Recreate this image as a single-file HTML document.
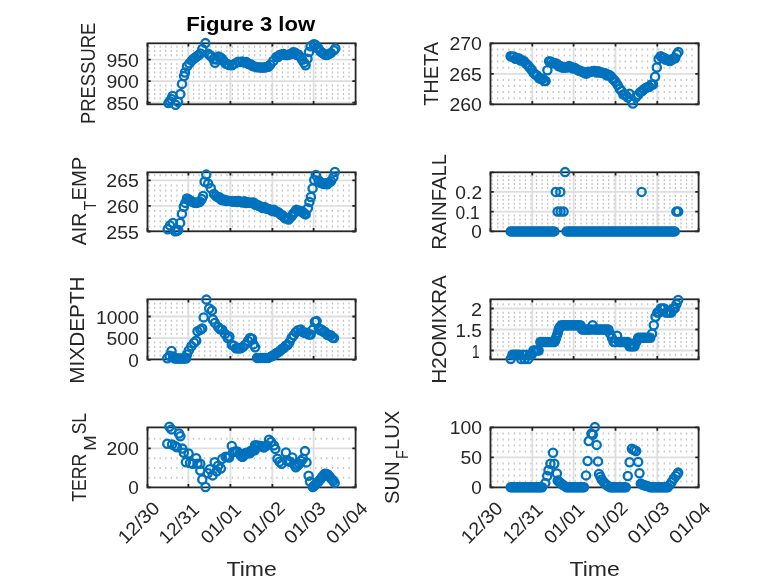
<!DOCTYPE html>
<html lang="en"><head><meta charset="utf-8"><title>Figure 3 low</title>
<style>html,body{margin:0;padding:0;background:#fff;overflow:hidden}svg{display:block;will-change:transform}</style>
</head><body>
<svg width="778" height="583" viewBox="0 0 778 583" font-family='"Liberation Sans", sans-serif' fill="#262626">
<rect width="778" height="583" fill="#fff"/>
<g id="PRESSURE">
<path d="M148.46 98.3H353.1M148.46 94H353.1M148.46 89.7H353.1M148.46 85.4H353.1M148.46 76.8H353.1M148.46 72.5H353.1M148.46 68.2H353.1M148.46 63.9H353.1M148.46 55.3H353.1M148.46 51H353.1M148.46 46.7H353.1" stroke="#c2c2c2" stroke-width="2" stroke-dasharray="1.25 4.305" fill="none"/>
<path d="M188.4 43.3V104.3M230.4 43.3V104.3M272.4 43.3V104.3M313.6 43.3V104.3M147.5 102.6H355.6M147.5 81.1H355.6M147.5 59.6H355.6" stroke="#dedede" stroke-width="1.8" fill="none"/>
<path d="M147.5 104.3v-3.3M147.5 43.3v3.3M188.4 104.3v-3.3M188.4 43.3v3.3M230.4 104.3v-3.3M230.4 43.3v3.3M272.4 104.3v-3.3M272.4 43.3v3.3M313.6 104.3v-3.3M313.6 43.3v3.3M355.6 104.3v-3.3M355.6 43.3v3.3M147.5 102.6h3.3M355.6 102.6h-3.3M147.5 81.1h3.3M355.6 81.1h-3.3M147.5 59.6h3.3M355.6 59.6h-3.3" stroke="#262626" stroke-width="1.8" fill="none"/>
<rect x="147.5" y="43.3" width="208.1" height="61" fill="none" stroke="#262626" stroke-width="1.8"/>
<g fill="none" stroke="#0072bd" stroke-width="2.3">
<circle cx="168.4" cy="103.1" r="4.1"/><circle cx="170" cy="101.2" r="4.1"/><circle cx="171.4" cy="98.9" r="4.1"/><circle cx="172.6" cy="95.9" r="4.1"/><circle cx="175.6" cy="104.7" r="4.1"/><circle cx="178" cy="101.9" r="4.1"/><circle cx="180.4" cy="94.1" r="4.1"/><circle cx="182" cy="83.9" r="4.1"/><circle cx="184" cy="76.1" r="4.1"/><circle cx="185" cy="72.5" r="4.1"/><circle cx="187" cy="66.4" r="4.1"/><circle cx="189.4" cy="63.4" r="4.1"/><circle cx="191.7" cy="60.6" r="4.1"/><circle cx="193.6" cy="58.8" r="4.1"/><circle cx="195.3" cy="57.6" r="4.1"/><circle cx="197" cy="56.2" r="4.1"/><circle cx="198.8" cy="55" r="4.1"/><circle cx="200.4" cy="53.4" r="4.1"/><circle cx="202.3" cy="49" r="4.1"/><circle cx="205.4" cy="43.1" r="4.1"/><circle cx="208.2" cy="53.8" r="4.1"/><circle cx="209.9" cy="55.2" r="4.1"/><circle cx="211.6" cy="56.5" r="4.1"/><circle cx="213.3" cy="59.14" r="4.1"/><circle cx="215" cy="62.7" r="4.1"/><circle cx="216.8" cy="59.5" r="4.1"/><circle cx="218.5" cy="56.5" r="4.1"/><circle cx="220.2" cy="57.5" r="4.1"/><circle cx="221.9" cy="58.6" r="4.1"/><circle cx="223.6" cy="61" r="4.1"/><circle cx="225.6" cy="63.6" r="4.1"/><circle cx="227.3" cy="64.07" r="4.1"/><circle cx="229" cy="65" r="4.1"/><circle cx="232" cy="65.3" r="4.1"/><circle cx="235.2" cy="63.4" r="4.1"/><circle cx="238.2" cy="61.7" r="4.1"/><circle cx="240.25" cy="62.12" r="4.1"/><circle cx="242.3" cy="61.5" r="4.1"/><circle cx="244.35" cy="62.59" r="4.1"/><circle cx="246.4" cy="62" r="4.1"/><circle cx="248.45" cy="64.02" r="4.1"/><circle cx="250.5" cy="64.3" r="4.1"/><circle cx="252.55" cy="65.99" r="4.1"/><circle cx="254.6" cy="66.5" r="4.1"/><circle cx="256.65" cy="67.13" r="4.1"/><circle cx="258.7" cy="67.3" r="4.1"/><circle cx="260.8" cy="67.54" r="4.1"/><circle cx="262.9" cy="67.6" r="4.1"/><circle cx="264.7" cy="67.55" r="4.1"/><circle cx="266.5" cy="67" r="4.1"/><circle cx="268.3" cy="66.73" r="4.1"/><circle cx="270.1" cy="64.8" r="4.1"/><circle cx="273.2" cy="61" r="4.1"/><circle cx="276.3" cy="57.1" r="4.1"/><circle cx="278.03" cy="57.02" r="4.1"/><circle cx="279.77" cy="55.07" r="4.1"/><circle cx="281.5" cy="54.5" r="4.1"/><circle cx="283.53" cy="54.08" r="4.1"/><circle cx="285.57" cy="55.06" r="4.1"/><circle cx="287.6" cy="55.1" r="4.1"/><circle cx="289.4" cy="54.35" r="4.1"/><circle cx="291.2" cy="54.1" r="4.1"/><circle cx="293" cy="52.37" r="4.1"/><circle cx="294.8" cy="52.5" r="4.1"/><circle cx="296.53" cy="54.75" r="4.1"/><circle cx="298.27" cy="54.52" r="4.1"/><circle cx="300" cy="56.6" r="4.1"/><circle cx="302.2" cy="59.7" r="4.1"/><circle cx="304.1" cy="62.8" r="4.1"/><circle cx="305.6" cy="65.3" r="4.1"/><circle cx="307.5" cy="58.7" r="4.1"/><circle cx="309" cy="52" r="4.1"/><circle cx="310.6" cy="46.3" r="4.1"/><circle cx="313.8" cy="44.3" r="4.1"/><circle cx="315.37" cy="44.87" r="4.1"/><circle cx="316.93" cy="47.87" r="4.1"/><circle cx="318.5" cy="48.4" r="4.1"/><circle cx="320.55" cy="51.44" r="4.1"/><circle cx="322.6" cy="53" r="4.1"/><circle cx="324.65" cy="54.43" r="4.1"/><circle cx="326.7" cy="55.1" r="4.1"/><circle cx="328.75" cy="54.16" r="4.1"/><circle cx="330.8" cy="53" r="4.1"/><circle cx="333.9" cy="50.4" r="4.1"/><circle cx="335.4" cy="48.4" r="4.1"/>
</g>
<text transform="translate(107.35 109.6) scale(1.0431 1.0000) translate(-0.79 0)" font-size="18.6">850</text>
<text transform="translate(107.35 88.1) scale(1.0464 1.0000) translate(-0.88 0)" font-size="18.6">900</text>
<text transform="translate(107.35 66.6) scale(1.0464 1.0000) translate(-0.88 0)" font-size="18.6">950</text>
</g>
<g id="AIR">
<path d="M148.46 226.39H353.1M148.46 221.28H353.1M148.46 216.17H353.1M148.46 211.06H353.1M148.46 200.84H353.1M148.46 195.73H353.1M148.46 190.62H353.1M148.46 185.51H353.1M148.46 175.29H353.1" stroke="#c2c2c2" stroke-width="2" stroke-dasharray="1.25 4.305" fill="none"/>
<path d="M188.4 172.3V231.3M230.4 172.3V231.3M272.4 172.3V231.3M313.6 172.3V231.3M147.5 205.95H355.6M147.5 180.4H355.6" stroke="#dedede" stroke-width="1.8" fill="none"/>
<path d="M147.5 231.3v-3.3M147.5 172.3v3.3M188.4 231.3v-3.3M188.4 172.3v3.3M230.4 231.3v-3.3M230.4 172.3v3.3M272.4 231.3v-3.3M272.4 172.3v3.3M313.6 231.3v-3.3M313.6 172.3v3.3M355.6 231.3v-3.3M355.6 172.3v3.3M147.5 231.5h3.3M355.6 231.5h-3.3M147.5 205.95h3.3M355.6 205.95h-3.3M147.5 180.4h3.3M355.6 180.4h-3.3" stroke="#262626" stroke-width="1.8" fill="none"/>
<rect x="147.5" y="172.3" width="208.1" height="59" fill="none" stroke="#262626" stroke-width="1.8"/>
<g fill="none" stroke="#0072bd" stroke-width="2.3">
<circle cx="167.7" cy="229.3" r="4.1"/><circle cx="170" cy="225.4" r="4.1"/><circle cx="172.9" cy="222.9" r="4.1"/><circle cx="175" cy="231.2" r="4.1"/><circle cx="176.6" cy="231" r="4.1"/><circle cx="178.2" cy="230" r="4.1"/><circle cx="180.2" cy="222.9" r="4.1"/><circle cx="181.9" cy="213.9" r="4.1"/><circle cx="183.8" cy="206.8" r="4.1"/><circle cx="185.3" cy="202.9" r="4.1"/><circle cx="187" cy="198.4" r="4.1"/><circle cx="188.6" cy="199.4" r="4.1"/><circle cx="190.2" cy="200.4" r="4.1"/><circle cx="191.8" cy="201.4" r="4.1"/><circle cx="193.4" cy="202.3" r="4.1"/><circle cx="195" cy="202.7" r="4.1"/><circle cx="196.7" cy="202.9" r="4.1"/><circle cx="198.3" cy="202.4" r="4.1"/><circle cx="199.9" cy="201.7" r="4.1"/><circle cx="201.8" cy="199.1" r="4.1"/><circle cx="203.1" cy="195.9" r="4.1"/><circle cx="204.6" cy="181.7" r="4.1"/><circle cx="206.3" cy="174.6" r="4.1"/><circle cx="208.2" cy="183.6" r="4.1"/><circle cx="210.8" cy="188.2" r="4.1"/><circle cx="214" cy="193.9" r="4.1"/><circle cx="215.95" cy="196.09" r="4.1"/><circle cx="217.9" cy="197.2" r="4.1"/><circle cx="219.6" cy="197.35" r="4.1"/><circle cx="221.3" cy="199.77" r="4.1"/><circle cx="223" cy="200.3" r="4.1"/><circle cx="224.62" cy="199.65" r="4.1"/><circle cx="226.25" cy="201.01" r="4.1"/><circle cx="227.88" cy="200.73" r="4.1"/><circle cx="229.5" cy="201" r="4.1"/><circle cx="231.43" cy="201.13" r="4.1"/><circle cx="233.35" cy="201.75" r="4.1"/><circle cx="235.27" cy="201.01" r="4.1"/><circle cx="237.2" cy="202" r="4.1"/><circle cx="239" cy="201.06" r="4.1"/><circle cx="240.8" cy="201.9" r="4.1"/><circle cx="242.6" cy="202.6" r="4.1"/><circle cx="244.4" cy="201.27" r="4.1"/><circle cx="246.2" cy="202.94" r="4.1"/><circle cx="248" cy="202.27" r="4.1"/><circle cx="249.8" cy="202.74" r="4.1"/><circle cx="251.6" cy="202.7" r="4.1"/><circle cx="253.44" cy="202.56" r="4.1"/><circle cx="255.28" cy="204.79" r="4.1"/><circle cx="257.12" cy="204.85" r="4.1"/><circle cx="258.96" cy="205.97" r="4.1"/><circle cx="260.8" cy="206.5" r="4.1"/><circle cx="262.66" cy="207.97" r="4.1"/><circle cx="264.52" cy="206.96" r="4.1"/><circle cx="266.38" cy="208.66" r="4.1"/><circle cx="268.24" cy="208.88" r="4.1"/><circle cx="270.1" cy="209.6" r="4.1"/><circle cx="272.03" cy="210.89" r="4.1"/><circle cx="273.95" cy="209.87" r="4.1"/><circle cx="275.88" cy="211.81" r="4.1"/><circle cx="277.8" cy="211.9" r="4.1"/><circle cx="279.35" cy="213.13" r="4.1"/><circle cx="280.9" cy="214.84" r="4.1"/><circle cx="282.45" cy="215.22" r="4.1"/><circle cx="284" cy="217.3" r="4.1"/><circle cx="285.53" cy="218.48" r="4.1"/><circle cx="287.07" cy="217.98" r="4.1"/><circle cx="288.6" cy="219.6" r="4.1"/><circle cx="291.7" cy="216.2" r="4.1"/><circle cx="293.23" cy="213.69" r="4.1"/><circle cx="294.77" cy="211.96" r="4.1"/><circle cx="296.3" cy="209.7" r="4.1"/><circle cx="297.87" cy="210.7" r="4.1"/><circle cx="299.43" cy="210.67" r="4.1"/><circle cx="301" cy="211.3" r="4.1"/><circle cx="302.53" cy="211.8" r="4.1"/><circle cx="304.07" cy="213.48" r="4.1"/><circle cx="305.6" cy="214.4" r="4.1"/><circle cx="307.9" cy="208.2" r="4.1"/><circle cx="309.4" cy="202" r="4.1"/><circle cx="310.9" cy="197" r="4.1"/><circle cx="312.6" cy="188.4" r="4.1"/><circle cx="314.2" cy="180" r="4.1"/><circle cx="315.9" cy="175" r="4.1"/><circle cx="318.7" cy="180.4" r="4.1"/><circle cx="320.6" cy="182.77" r="4.1"/><circle cx="322.5" cy="183.5" r="4.1"/><circle cx="324.07" cy="184.1" r="4.1"/><circle cx="325.63" cy="183.23" r="4.1"/><circle cx="327.2" cy="184.3" r="4.1"/><circle cx="329.1" cy="182.48" r="4.1"/><circle cx="331" cy="181.2" r="4.1"/><circle cx="333.4" cy="177.3" r="4.1"/><circle cx="334.9" cy="171.9" r="4.1"/>
</g>
<text transform="translate(107.35 238.5) scale(1.0497 1.0000) translate(-0.93 0)" font-size="18.6">255</text>
<text transform="translate(107.35 212.95) scale(1.0480 1.0000) translate(-0.93 0)" font-size="18.6">260</text>
<text transform="translate(107.35 187.4) scale(1.0497 1.0000) translate(-0.93 0)" font-size="18.6">265</text>
</g>
<g id="MIX">
<path d="M148.46 355.56H353.1M148.46 351.22H353.1M148.46 346.88H353.1M148.46 342.54H353.1M148.46 333.86H353.1M148.46 329.52H353.1M148.46 325.18H353.1M148.46 320.84H353.1M148.46 312.16H353.1M148.46 307.82H353.1M148.46 303.48H353.1" stroke="#c2c2c2" stroke-width="2" stroke-dasharray="1.25 4.305" fill="none"/>
<path d="M188.4 299.3V359.4M230.4 299.3V359.4M272.4 299.3V359.4M313.6 299.3V359.4M147.5 338.2H355.6M147.5 316.5H355.6" stroke="#dedede" stroke-width="1.8" fill="none"/>
<path d="M147.5 359.4v-3.3M147.5 299.3v3.3M188.4 359.4v-3.3M188.4 299.3v3.3M230.4 359.4v-3.3M230.4 299.3v3.3M272.4 359.4v-3.3M272.4 299.3v3.3M313.6 359.4v-3.3M313.6 299.3v3.3M355.6 359.4v-3.3M355.6 299.3v3.3M147.5 359.9h3.3M355.6 359.9h-3.3M147.5 338.2h3.3M355.6 338.2h-3.3M147.5 316.5h3.3M355.6 316.5h-3.3" stroke="#262626" stroke-width="1.8" fill="none"/>
<rect x="147.5" y="299.3" width="208.1" height="60.1" fill="none" stroke="#262626" stroke-width="1.8"/>
<g fill="none" stroke="#0072bd" stroke-width="2.3">
<circle cx="167.3" cy="358.3" r="4.1"/><circle cx="169.6" cy="355.8" r="4.1"/><circle cx="171.5" cy="351" r="4.1"/><circle cx="173" cy="356.5" r="4.1"/><circle cx="174.8" cy="358.6" r="4.1"/><circle cx="176.67" cy="358.6" r="4.1"/><circle cx="178.53" cy="358.6" r="4.1"/><circle cx="180.4" cy="358.6" r="4.1"/><circle cx="182.27" cy="358.6" r="4.1"/><circle cx="184.13" cy="358.6" r="4.1"/><circle cx="186" cy="358.6" r="4.1"/><circle cx="187" cy="354.5" r="4.1"/><circle cx="188.8" cy="350.4" r="4.1"/><circle cx="191.4" cy="346.2" r="4.1"/><circle cx="194.1" cy="342.8" r="4.1"/><circle cx="196.2" cy="340.8" r="4.1"/><circle cx="197.5" cy="331.2" r="4.1"/><circle cx="200.3" cy="329.8" r="4.1"/><circle cx="202.2" cy="328.4" r="4.1"/><circle cx="203.7" cy="317.4" r="4.1"/><circle cx="206.4" cy="299.6" r="4.1"/><circle cx="209.2" cy="308.5" r="4.1"/><circle cx="211.9" cy="310.6" r="4.1"/><circle cx="212.8" cy="319.5" r="4.1"/><circle cx="214.9" cy="322.9" r="4.1"/><circle cx="218.1" cy="327" r="4.1"/><circle cx="220.15" cy="329.25" r="4.1"/><circle cx="222.2" cy="329.8" r="4.1"/><circle cx="225" cy="333.9" r="4.1"/><circle cx="227.7" cy="338" r="4.1"/><circle cx="229.4" cy="336.6" r="4.1"/><circle cx="231.8" cy="344.9" r="4.1"/><circle cx="233.85" cy="345.75" r="4.1"/><circle cx="235.9" cy="348.3" r="4.1"/><circle cx="237.5" cy="348.3" r="4.1"/><circle cx="239.1" cy="348.3" r="4.1"/><circle cx="240.7" cy="348.3" r="4.1"/><circle cx="242.8" cy="347.12" r="4.1"/><circle cx="244.9" cy="344.9" r="4.1"/><circle cx="248" cy="341" r="4.1"/><circle cx="250" cy="338" r="4.1"/><circle cx="252" cy="338.8" r="4.1"/><circle cx="253.4" cy="344.4" r="4.1"/><circle cx="255.1" cy="347.3" r="4.1"/><circle cx="257" cy="357.9" r="4.1"/><circle cx="258.88" cy="357.9" r="4.1"/><circle cx="260.77" cy="357.9" r="4.1"/><circle cx="262.65" cy="357.9" r="4.1"/><circle cx="264.53" cy="357.9" r="4.1"/><circle cx="266.42" cy="357.9" r="4.1"/><circle cx="268.3" cy="357.9" r="4.1"/><circle cx="270.4" cy="356.9" r="4.1"/><circle cx="272.5" cy="355.7" r="4.1"/><circle cx="274.4" cy="354.82" r="4.1"/><circle cx="276.3" cy="353.26" r="4.1"/><circle cx="278.2" cy="352.2" r="4.1"/><circle cx="280.07" cy="350.89" r="4.1"/><circle cx="281.93" cy="348.97" r="4.1"/><circle cx="283.8" cy="348" r="4.1"/><circle cx="285.7" cy="345.79" r="4.1"/><circle cx="287.6" cy="344.99" r="4.1"/><circle cx="289.5" cy="342.3" r="4.1"/><circle cx="291.6" cy="338.01" r="4.1"/><circle cx="293.7" cy="335.2" r="4.1"/><circle cx="295.85" cy="332.32" r="4.1"/><circle cx="298" cy="330.3" r="4.1"/><circle cx="300.8" cy="329.6" r="4.1"/><circle cx="302.9" cy="331.99" r="4.1"/><circle cx="305" cy="333.1" r="4.1"/><circle cx="306.9" cy="332.7" r="4.1"/><circle cx="308.8" cy="334.48" r="4.1"/><circle cx="310.7" cy="334.5" r="4.1"/><circle cx="312.8" cy="329.6" r="4.1"/><circle cx="314.9" cy="321.8" r="4.1"/><circle cx="316.6" cy="321.1" r="4.1"/><circle cx="318.8" cy="328.2" r="4.1"/><circle cx="320.33" cy="330.21" r="4.1"/><circle cx="321.87" cy="329.75" r="4.1"/><circle cx="323.4" cy="331.7" r="4.1"/><circle cx="325.3" cy="332.1" r="4.1"/><circle cx="327.2" cy="334.89" r="4.1"/><circle cx="329.1" cy="335.2" r="4.1"/><circle cx="330.73" cy="335.29" r="4.1"/><circle cx="332.37" cy="337.62" r="4.1"/><circle cx="334" cy="338.1" r="4.1"/>
</g>
<text transform="translate(129.09 366.9) scale(1.0204 1.0000) translate(-0.74 0)" font-size="18.6">0</text>
<text transform="translate(107.35 345.2) scale(1.0414 1.0000) translate(-0.74 0)" font-size="18.6">500</text>
<text transform="translate(97.34 323.5) scale(1.0399 1.0000) translate(-1.4 0)" font-size="18.6">1000</text>
</g>
<g id="TERR">
<path d="M148.46 477.65H353.1M148.46 467.9H353.1M148.46 458.15H353.1M148.46 438.65H353.1" stroke="#c2c2c2" stroke-width="2" stroke-dasharray="1.25 4.305" fill="none"/>
<path d="M188.4 427.4V487.4M230.4 427.4V487.4M272.4 427.4V487.4M313.6 427.4V487.4M147.5 448.4H355.6" stroke="#dedede" stroke-width="1.8" fill="none"/>
<path d="M147.5 487.4v-3.3M147.5 427.4v3.3M188.4 487.4v-3.3M188.4 427.4v3.3M230.4 487.4v-3.3M230.4 427.4v3.3M272.4 487.4v-3.3M272.4 427.4v3.3M313.6 487.4v-3.3M313.6 427.4v3.3M355.6 487.4v-3.3M355.6 427.4v3.3M147.5 487.4h3.3M355.6 487.4h-3.3M147.5 448.4h3.3M355.6 448.4h-3.3" stroke="#262626" stroke-width="1.8" fill="none"/>
<rect x="147.5" y="427.4" width="208.1" height="60" fill="none" stroke="#262626" stroke-width="1.8"/>
<g fill="none" stroke="#0072bd" stroke-width="2.3">
<circle cx="169.4" cy="426.7" r="4.1"/><circle cx="171.5" cy="429.4" r="4.1"/><circle cx="179" cy="433.5" r="4.1"/><circle cx="180.4" cy="436.3" r="4.1"/><circle cx="167.3" cy="443.8" r="4.1"/><circle cx="172.1" cy="444.5" r="4.1"/><circle cx="174.9" cy="445.9" r="4.1"/><circle cx="176.9" cy="447.2" r="4.1"/><circle cx="182.4" cy="448.6" r="4.1"/><circle cx="183.8" cy="452.7" r="4.1"/><circle cx="188.6" cy="453.4" r="4.1"/><circle cx="185.9" cy="462.3" r="4.1"/><circle cx="190" cy="463" r="4.1"/><circle cx="192.7" cy="463.7" r="4.1"/><circle cx="196.2" cy="458.2" r="4.1"/><circle cx="197.5" cy="463.7" r="4.1"/><circle cx="200.3" cy="463.7" r="4.1"/><circle cx="200.3" cy="470.6" r="4.1"/><circle cx="202.3" cy="479.5" r="4.1"/><circle cx="205.5" cy="487" r="4.1"/><circle cx="207.8" cy="473.3" r="4.1"/><circle cx="209.9" cy="469.2" r="4.1"/><circle cx="212.6" cy="475.4" r="4.1"/><circle cx="214.7" cy="462.3" r="4.1"/><circle cx="216.7" cy="471.2" r="4.1"/><circle cx="218.1" cy="465.8" r="4.1"/><circle cx="220.8" cy="468.5" r="4.1"/><circle cx="222.2" cy="458.9" r="4.1"/><circle cx="225.6" cy="456.8" r="4.1"/><circle cx="229.1" cy="457.5" r="4.1"/><circle cx="231.8" cy="445.9" r="4.1"/><circle cx="233.2" cy="452" r="4.1"/><circle cx="237.3" cy="451.4" r="4.1"/><circle cx="242.8" cy="456.8" r="4.1"/><circle cx="246.2" cy="452.7" r="4.1"/><circle cx="251" cy="450.7" r="4.1"/><circle cx="255" cy="445.2" r="4.1"/><circle cx="242.1" cy="456.7" r="4.1"/><circle cx="245.7" cy="453.2" r="4.1"/><circle cx="249.9" cy="453.2" r="4.1"/><circle cx="254.8" cy="450.3" r="4.1"/><circle cx="257" cy="445.4" r="4.1"/><circle cx="261.2" cy="446.1" r="4.1"/><circle cx="264" cy="447.5" r="4.1"/><circle cx="266.9" cy="445.4" r="4.1"/><circle cx="269" cy="439.7" r="4.1"/><circle cx="271.1" cy="441.9" r="4.1"/><circle cx="273.9" cy="445.4" r="4.1"/><circle cx="275.3" cy="448.9" r="4.1"/><circle cx="277.5" cy="458.8" r="4.1"/><circle cx="279.6" cy="461.7" r="4.1"/><circle cx="281.7" cy="463.8" r="4.1"/><circle cx="285.9" cy="452.5" r="4.1"/><circle cx="286.7" cy="460.2" r="4.1"/><circle cx="290.2" cy="461.7" r="4.1"/><circle cx="292.3" cy="457.4" r="4.1"/><circle cx="294.4" cy="464.5" r="4.1"/><circle cx="295.8" cy="467.3" r="4.1"/><circle cx="299.4" cy="463.8" r="4.1"/><circle cx="302.9" cy="458.8" r="4.1"/><circle cx="305" cy="451.1" r="4.1"/><circle cx="306.5" cy="462.4" r="4.1"/><circle cx="308.6" cy="475.8" r="4.1"/><circle cx="310" cy="481.5" r="4.1"/><circle cx="312.8" cy="487.1" r="4.1"/><circle cx="315.6" cy="484.3" r="4.1"/><circle cx="318.5" cy="481.5" r="4.1"/><circle cx="322" cy="477.2" r="4.1"/><circle cx="324.8" cy="473.7" r="4.1"/><circle cx="327.7" cy="474.4" r="4.1"/><circle cx="330.5" cy="477.9" r="4.1"/><circle cx="333.3" cy="480.7" r="4.1"/><circle cx="334.7" cy="482.9" r="4.1"/><circle cx="227.4" cy="457" r="4.1"/><circle cx="235.2" cy="451.6" r="4.1"/><circle cx="239.5" cy="453.5" r="4.1"/><circle cx="240.9" cy="455.5" r="4.1"/><circle cx="244.2" cy="455" r="4.1"/><circle cx="248" cy="453" r="4.1"/><circle cx="252.9" cy="450.5" r="4.1"/><circle cx="259" cy="445.8" r="4.1"/><circle cx="262.6" cy="446.8" r="4.1"/><circle cx="288.4" cy="461.2" r="4.1"/><circle cx="297.6" cy="465.5" r="4.1"/><circle cx="301.2" cy="461" r="4.1"/><circle cx="314.2" cy="485.8" r="4.1"/><circle cx="317" cy="483" r="4.1"/><circle cx="320.2" cy="479.4" r="4.1"/><circle cx="323.4" cy="475.4" r="4.1"/><circle cx="326.2" cy="474" r="4.1"/><circle cx="329.1" cy="476" r="4.1"/><circle cx="331.9" cy="479.4" r="4.1"/>
</g>
<text transform="translate(129.09 494.4) scale(1.0204 1.0000) translate(-0.74 0)" font-size="18.6">0</text>
<text transform="translate(107.35 455.4) scale(1.0480 1.0000) translate(-0.93 0)" font-size="18.6">200</text>
</g>
<g id="THETA">
<path d="M491.46 98.2H696.1M491.46 92.1H696.1M491.46 86H696.1M491.46 79.9H696.1M491.46 67.7H696.1M491.46 61.6H696.1M491.46 55.5H696.1M491.46 49.4H696.1" stroke="#c2c2c2" stroke-width="2" stroke-dasharray="1.25 4.305" fill="none"/>
<path d="M532.3 43.3V104.3M573.6 43.3V104.3M615.5 43.3V104.3M657.3 43.3V104.3M490.5 73.8H698.6" stroke="#dedede" stroke-width="1.8" fill="none"/>
<path d="M490.5 104.3v-3.3M490.5 43.3v3.3M532.3 104.3v-3.3M532.3 43.3v3.3M573.6 104.3v-3.3M573.6 43.3v3.3M615.5 104.3v-3.3M615.5 43.3v3.3M657.3 104.3v-3.3M657.3 43.3v3.3M698.6 104.3v-3.3M698.6 43.3v3.3M490.5 104.3h3.3M698.6 104.3h-3.3M490.5 73.8h3.3M698.6 73.8h-3.3M490.5 43.3h3.3M698.6 43.3h-3.3" stroke="#262626" stroke-width="1.8" fill="none"/>
<rect x="490.5" y="43.3" width="208.1" height="61" fill="none" stroke="#262626" stroke-width="1.8"/>
<g fill="none" stroke="#0072bd" stroke-width="2.3">
<circle cx="510.6" cy="56.2" r="4.1"/><circle cx="512.2" cy="56.89" r="4.1"/><circle cx="513.8" cy="56.61" r="4.1"/><circle cx="515.4" cy="58.67" r="4.1"/><circle cx="517" cy="58.3" r="4.1"/><circle cx="518.75" cy="58.17" r="4.1"/><circle cx="520.5" cy="60.52" r="4.1"/><circle cx="522.25" cy="60.19" r="4.1"/><circle cx="524" cy="61.2" r="4.1"/><circle cx="525.9" cy="63.51" r="4.1"/><circle cx="527.8" cy="65.26" r="4.1"/><circle cx="529.7" cy="67.5" r="4.1"/><circle cx="531.57" cy="69.75" r="4.1"/><circle cx="533.43" cy="72.75" r="4.1"/><circle cx="535.3" cy="74.6" r="4.1"/><circle cx="537.2" cy="75.6" r="4.1"/><circle cx="539.1" cy="78.25" r="4.1"/><circle cx="541" cy="78.8" r="4.1"/><circle cx="542.53" cy="78.73" r="4.1"/><circle cx="544.07" cy="81.09" r="4.1"/><circle cx="545.6" cy="81" r="4.1"/><circle cx="547.4" cy="70.3" r="4.1"/><circle cx="549.1" cy="61.2" r="4.1"/><circle cx="551.1" cy="61.78" r="4.1"/><circle cx="553.1" cy="63.15" r="4.1"/><circle cx="555.1" cy="63.3" r="4.1"/><circle cx="556.88" cy="63.71" r="4.1"/><circle cx="558.65" cy="66.3" r="4.1"/><circle cx="560.43" cy="65.88" r="4.1"/><circle cx="562.2" cy="67.5" r="4.1"/><circle cx="563.9" cy="67.79" r="4.1"/><circle cx="565.6" cy="67.13" r="4.1"/><circle cx="567.3" cy="67.43" r="4.1"/><circle cx="569" cy="66.12" r="4.1"/><circle cx="570.7" cy="66.8" r="4.1"/><circle cx="572.57" cy="68.39" r="4.1"/><circle cx="574.43" cy="67.69" r="4.1"/><circle cx="576.3" cy="68.9" r="4.1"/><circle cx="578" cy="70.39" r="4.1"/><circle cx="579.7" cy="70.45" r="4.1"/><circle cx="581.4" cy="71.66" r="4.1"/><circle cx="583.1" cy="71.68" r="4.1"/><circle cx="584.8" cy="73.2" r="4.1"/><circle cx="586.5" cy="73.66" r="4.1"/><circle cx="588.2" cy="71.65" r="4.1"/><circle cx="589.9" cy="72.16" r="4.1"/><circle cx="591.6" cy="71.39" r="4.1"/><circle cx="593.3" cy="71.1" r="4.1"/><circle cx="595" cy="70.98" r="4.1"/><circle cx="596.7" cy="72.51" r="4.1"/><circle cx="598.4" cy="71.16" r="4.1"/><circle cx="600.1" cy="72.51" r="4.1"/><circle cx="601.8" cy="72.5" r="4.1"/><circle cx="603.5" cy="73.2" r="4.1"/><circle cx="605.27" cy="73.23" r="4.1"/><circle cx="607.05" cy="75.49" r="4.1"/><circle cx="608.83" cy="74.77" r="4.1"/><circle cx="610.6" cy="76" r="4.1"/><circle cx="612.23" cy="78.29" r="4.1"/><circle cx="613.87" cy="79.71" r="4.1"/><circle cx="615.5" cy="81.7" r="4.1"/><circle cx="617.6" cy="84.84" r="4.1"/><circle cx="619.7" cy="88.7" r="4.1"/><circle cx="621.5" cy="90.87" r="4.1"/><circle cx="623.3" cy="94.4" r="4.1"/><circle cx="625.4" cy="94.95" r="4.1"/><circle cx="627.5" cy="97.2" r="4.1"/><circle cx="629.4" cy="93.7" r="4.1"/><circle cx="631.2" cy="100" r="4.1"/><circle cx="632.9" cy="103.6" r="4.1"/><circle cx="636" cy="97.2" r="4.1"/><circle cx="638.1" cy="94.86" r="4.1"/><circle cx="640.2" cy="92.3" r="4.1"/><circle cx="642.1" cy="91.01" r="4.1"/><circle cx="644" cy="89.23" r="4.1"/><circle cx="645.9" cy="88" r="4.1"/><circle cx="647.67" cy="86.97" r="4.1"/><circle cx="649.45" cy="86.87" r="4.1"/><circle cx="651.23" cy="84.48" r="4.1"/><circle cx="653" cy="84.5" r="4.1"/><circle cx="655.1" cy="76.7" r="4.1"/><circle cx="656.8" cy="67.5" r="4.1"/><circle cx="658.6" cy="59" r="4.1"/><circle cx="660.7" cy="56.2" r="4.1"/><circle cx="662.37" cy="57.64" r="4.1"/><circle cx="664.03" cy="57.77" r="4.1"/><circle cx="665.7" cy="59.7" r="4.1"/><circle cx="667.57" cy="59.58" r="4.1"/><circle cx="669.43" cy="60.99" r="4.1"/><circle cx="671.3" cy="60.4" r="4.1"/><circle cx="673.25" cy="58.62" r="4.1"/><circle cx="675.2" cy="58.3" r="4.1"/><circle cx="676.9" cy="54.1" r="4.1"/><circle cx="678.4" cy="52" r="4.1"/>
</g>
<text transform="translate(450.35 111.3) scale(1.0480 1.0000) translate(-0.93 0)" font-size="18.6">260</text>
<text transform="translate(450.35 80.8) scale(1.0497 1.0000) translate(-0.93 0)" font-size="18.6">265</text>
<text transform="translate(450.35 50.3) scale(1.0480 1.0000) translate(-0.93 0)" font-size="18.6">270</text>
</g>
<g id="RAIN">
<path d="M491.46 227.37H696.1M491.46 223.43H696.1M491.46 219.5H696.1M491.46 215.57H696.1M491.46 207.7H696.1M491.46 203.77H696.1M491.46 199.83H696.1M491.46 195.9H696.1M491.46 188.03H696.1M491.46 184.1H696.1M491.46 180.17H696.1M491.46 176.23H696.1" stroke="#c2c2c2" stroke-width="2" stroke-dasharray="1.25 4.305" fill="none"/>
<path d="M532.3 172.3V231.3M573.6 172.3V231.3M615.5 172.3V231.3M657.3 172.3V231.3M490.5 211.63H698.6M490.5 191.97H698.6" stroke="#dedede" stroke-width="1.8" fill="none"/>
<path d="M490.5 231.3v-3.3M490.5 172.3v3.3M532.3 231.3v-3.3M532.3 172.3v3.3M573.6 231.3v-3.3M573.6 172.3v3.3M615.5 231.3v-3.3M615.5 172.3v3.3M657.3 231.3v-3.3M657.3 172.3v3.3M698.6 231.3v-3.3M698.6 172.3v3.3M490.5 231.3h3.3M698.6 231.3h-3.3M490.5 211.63h3.3M698.6 211.63h-3.3M490.5 191.97h3.3M698.6 191.97h-3.3M490.5 172.3h3.3M698.6 172.3h-3.3" stroke="#262626" stroke-width="1.8" fill="none"/>
<rect x="490.5" y="172.3" width="208.1" height="59" fill="none" stroke="#262626" stroke-width="1.8"/>
<g fill="none" stroke="#0072bd" stroke-width="2.3">
<circle cx="510.7" cy="231.4" r="4.1"/><circle cx="512.44" cy="231.4" r="4.1"/><circle cx="514.19" cy="231.4" r="4.1"/><circle cx="515.93" cy="231.4" r="4.1"/><circle cx="517.68" cy="231.4" r="4.1"/><circle cx="519.42" cy="231.4" r="4.1"/><circle cx="521.17" cy="231.4" r="4.1"/><circle cx="522.91" cy="231.4" r="4.1"/><circle cx="524.66" cy="231.4" r="4.1"/><circle cx="526.4" cy="231.4" r="4.1"/><circle cx="528.15" cy="231.4" r="4.1"/><circle cx="529.89" cy="231.4" r="4.1"/><circle cx="531.64" cy="231.4" r="4.1"/><circle cx="533.38" cy="231.4" r="4.1"/><circle cx="535.13" cy="231.4" r="4.1"/><circle cx="536.88" cy="231.4" r="4.1"/><circle cx="538.62" cy="231.4" r="4.1"/><circle cx="540.37" cy="231.4" r="4.1"/><circle cx="542.11" cy="231.4" r="4.1"/><circle cx="543.86" cy="231.4" r="4.1"/><circle cx="545.6" cy="231.4" r="4.1"/><circle cx="547.35" cy="231.4" r="4.1"/><circle cx="549.09" cy="231.4" r="4.1"/><circle cx="550.84" cy="231.4" r="4.1"/><circle cx="552.58" cy="231.4" r="4.1"/><circle cx="554.33" cy="231.4" r="4.1"/><circle cx="566.54" cy="231.4" r="4.1"/><circle cx="568.28" cy="231.4" r="4.1"/><circle cx="570.03" cy="231.4" r="4.1"/><circle cx="571.77" cy="231.4" r="4.1"/><circle cx="573.52" cy="231.4" r="4.1"/><circle cx="575.26" cy="231.4" r="4.1"/><circle cx="577.01" cy="231.4" r="4.1"/><circle cx="578.75" cy="231.4" r="4.1"/><circle cx="580.5" cy="231.4" r="4.1"/><circle cx="582.25" cy="231.4" r="4.1"/><circle cx="583.99" cy="231.4" r="4.1"/><circle cx="585.74" cy="231.4" r="4.1"/><circle cx="587.48" cy="231.4" r="4.1"/><circle cx="589.23" cy="231.4" r="4.1"/><circle cx="590.97" cy="231.4" r="4.1"/><circle cx="592.72" cy="231.4" r="4.1"/><circle cx="594.46" cy="231.4" r="4.1"/><circle cx="596.21" cy="231.4" r="4.1"/><circle cx="597.95" cy="231.4" r="4.1"/><circle cx="599.69" cy="231.4" r="4.1"/><circle cx="601.44" cy="231.4" r="4.1"/><circle cx="603.18" cy="231.4" r="4.1"/><circle cx="604.93" cy="231.4" r="4.1"/><circle cx="606.67" cy="231.4" r="4.1"/><circle cx="608.42" cy="231.4" r="4.1"/><circle cx="610.16" cy="231.4" r="4.1"/><circle cx="611.91" cy="231.4" r="4.1"/><circle cx="613.65" cy="231.4" r="4.1"/><circle cx="615.4" cy="231.4" r="4.1"/><circle cx="617.14" cy="231.4" r="4.1"/><circle cx="618.89" cy="231.4" r="4.1"/><circle cx="620.63" cy="231.4" r="4.1"/><circle cx="622.38" cy="231.4" r="4.1"/><circle cx="624.12" cy="231.4" r="4.1"/><circle cx="625.87" cy="231.4" r="4.1"/><circle cx="627.62" cy="231.4" r="4.1"/><circle cx="629.36" cy="231.4" r="4.1"/><circle cx="631.11" cy="231.4" r="4.1"/><circle cx="632.85" cy="231.4" r="4.1"/><circle cx="634.6" cy="231.4" r="4.1"/><circle cx="636.34" cy="231.4" r="4.1"/><circle cx="638.09" cy="231.4" r="4.1"/><circle cx="639.83" cy="231.4" r="4.1"/><circle cx="641.58" cy="231.4" r="4.1"/><circle cx="643.32" cy="231.4" r="4.1"/><circle cx="645.07" cy="231.4" r="4.1"/><circle cx="646.81" cy="231.4" r="4.1"/><circle cx="648.56" cy="231.4" r="4.1"/><circle cx="650.3" cy="231.4" r="4.1"/><circle cx="652.04" cy="231.4" r="4.1"/><circle cx="653.79" cy="231.4" r="4.1"/><circle cx="655.53" cy="231.4" r="4.1"/><circle cx="657.28" cy="231.4" r="4.1"/><circle cx="659.02" cy="231.4" r="4.1"/><circle cx="660.77" cy="231.4" r="4.1"/><circle cx="662.51" cy="231.4" r="4.1"/><circle cx="664.26" cy="231.4" r="4.1"/><circle cx="666" cy="231.4" r="4.1"/><circle cx="667.75" cy="231.4" r="4.1"/><circle cx="669.5" cy="231.4" r="4.1"/><circle cx="671.24" cy="231.4" r="4.1"/><circle cx="672.99" cy="231.4" r="4.1"/><circle cx="674.73" cy="231.4" r="4.1"/><circle cx="555.8" cy="191.9" r="4.1"/><circle cx="560.3" cy="191.9" r="4.1"/><circle cx="557.6" cy="211.6" r="4.1"/><circle cx="560.6" cy="211.6" r="4.1"/><circle cx="563.6" cy="211.6" r="4.1"/><circle cx="565.05" cy="172.1" r="4.1"/><circle cx="641.6" cy="191.9" r="4.1"/><circle cx="676.3" cy="211.6" r="4.1"/><circle cx="678.2" cy="211.6" r="4.1"/>
</g>
<text transform="translate(472.09 238.3) scale(1.0204 1.0000) translate(-0.74 0)" font-size="18.6">0</text>
<text transform="translate(456.13 218.63) scale(0.9388 1.0000) translate(-0.74 0)" font-size="18.6">0.1</text>
<text transform="translate(456.13 198.97) scale(1.0349 1.0000) translate(-0.74 0)" font-size="18.6">0.2</text>
</g>
<g id="H2O">
<path d="M491.46 354.7H696.1M491.46 346.3H696.1M491.46 342.1H696.1M491.46 337.9H696.1M491.46 333.7H696.1M491.46 325.3H696.1M491.46 321.1H696.1M491.46 316.9H696.1M491.46 312.7H696.1M491.46 304.3H696.1" stroke="#c2c2c2" stroke-width="2" stroke-dasharray="1.25 4.305" fill="none"/>
<path d="M532.3 299.3V359.4M573.6 299.3V359.4M615.5 299.3V359.4M657.3 299.3V359.4M490.5 350.5H698.6M490.5 329.5H698.6M490.5 308.5H698.6" stroke="#dedede" stroke-width="1.8" fill="none"/>
<path d="M490.5 359.4v-3.3M490.5 299.3v3.3M532.3 359.4v-3.3M532.3 299.3v3.3M573.6 359.4v-3.3M573.6 299.3v3.3M615.5 359.4v-3.3M615.5 299.3v3.3M657.3 359.4v-3.3M657.3 299.3v3.3M698.6 359.4v-3.3M698.6 299.3v3.3M490.5 350.5h3.3M698.6 350.5h-3.3M490.5 329.5h3.3M698.6 329.5h-3.3M490.5 308.5h3.3M698.6 308.5h-3.3" stroke="#262626" stroke-width="1.8" fill="none"/>
<rect x="490.5" y="299.3" width="208.1" height="60.1" fill="none" stroke="#262626" stroke-width="1.8"/>
<g fill="none" stroke="#0072bd" stroke-width="2.3">
<circle cx="510.7" cy="358.92" r="4.1"/><circle cx="512.44" cy="354.71" r="4.1"/><circle cx="514.19" cy="354.71" r="4.1"/><circle cx="515.93" cy="354.71" r="4.1"/><circle cx="517.68" cy="354.71" r="4.1"/><circle cx="519.42" cy="354.71" r="4.1"/><circle cx="521.17" cy="358.92" r="4.1"/><circle cx="522.91" cy="354.71" r="4.1"/><circle cx="524.66" cy="358.92" r="4.1"/><circle cx="526.4" cy="354.71" r="4.1"/><circle cx="528.15" cy="358.92" r="4.1"/><circle cx="529.89" cy="354.71" r="4.1"/><circle cx="531.64" cy="354.71" r="4.1"/><circle cx="533.38" cy="350.5" r="4.1"/><circle cx="535.13" cy="350.5" r="4.1"/><circle cx="536.88" cy="350.5" r="4.1"/><circle cx="538.62" cy="350.5" r="4.1"/><circle cx="540.37" cy="342.08" r="4.1"/><circle cx="542.11" cy="342.08" r="4.1"/><circle cx="543.86" cy="342.08" r="4.1"/><circle cx="545.6" cy="342.08" r="4.1"/><circle cx="547.35" cy="342.08" r="4.1"/><circle cx="549.09" cy="342.08" r="4.1"/><circle cx="550.84" cy="342.08" r="4.1"/><circle cx="552.58" cy="342.08" r="4.1"/><circle cx="554.33" cy="342.08" r="4.1"/><circle cx="556.07" cy="337.87" r="4.1"/><circle cx="557.81" cy="332.82" r="4.1"/><circle cx="559.56" cy="327.35" r="4.1"/><circle cx="561.3" cy="325.24" r="4.1"/><circle cx="563.05" cy="325.24" r="4.1"/><circle cx="564.79" cy="325.24" r="4.1"/><circle cx="566.54" cy="325.24" r="4.1"/><circle cx="568.28" cy="325.24" r="4.1"/><circle cx="570.03" cy="325.24" r="4.1"/><circle cx="571.77" cy="325.24" r="4.1"/><circle cx="573.52" cy="325.24" r="4.1"/><circle cx="575.26" cy="325.24" r="4.1"/><circle cx="577.01" cy="325.24" r="4.1"/><circle cx="578.75" cy="325.24" r="4.1"/><circle cx="580.5" cy="325.24" r="4.1"/><circle cx="582.25" cy="329.45" r="4.1"/><circle cx="583.99" cy="329.45" r="4.1"/><circle cx="585.74" cy="329.45" r="4.1"/><circle cx="587.48" cy="329.45" r="4.1"/><circle cx="589.23" cy="329.45" r="4.1"/><circle cx="590.97" cy="329.45" r="4.1"/><circle cx="592.72" cy="325.24" r="4.1"/><circle cx="594.46" cy="329.45" r="4.1"/><circle cx="596.21" cy="329.45" r="4.1"/><circle cx="597.95" cy="329.45" r="4.1"/><circle cx="599.69" cy="329.45" r="4.1"/><circle cx="601.44" cy="329.45" r="4.1"/><circle cx="603.18" cy="329.45" r="4.1"/><circle cx="604.93" cy="329.45" r="4.1"/><circle cx="606.67" cy="329.45" r="4.1"/><circle cx="608.42" cy="329.45" r="4.1"/><circle cx="610.16" cy="333.66" r="4.1"/><circle cx="611.91" cy="337.87" r="4.1"/><circle cx="613.65" cy="342.08" r="4.1"/><circle cx="615.4" cy="342.08" r="4.1"/><circle cx="617.14" cy="335.76" r="4.1"/><circle cx="618.89" cy="342.08" r="4.1"/><circle cx="620.63" cy="342.08" r="4.1"/><circle cx="622.38" cy="342.08" r="4.1"/><circle cx="624.12" cy="342.08" r="4.1"/><circle cx="625.87" cy="342.08" r="4.1"/><circle cx="627.62" cy="342.08" r="4.1"/><circle cx="629.36" cy="346.29" r="4.1"/><circle cx="631.11" cy="346.29" r="4.1"/><circle cx="632.85" cy="346.29" r="4.1"/><circle cx="634.6" cy="346.29" r="4.1"/><circle cx="636.34" cy="342.08" r="4.1"/><circle cx="638.09" cy="337.87" r="4.1"/><circle cx="639.83" cy="337.87" r="4.1"/><circle cx="641.58" cy="337.87" r="4.1"/><circle cx="643.32" cy="337.87" r="4.1"/><circle cx="645.07" cy="337.87" r="4.1"/><circle cx="646.81" cy="337.87" r="4.1"/><circle cx="648.56" cy="337.87" r="4.1"/><circle cx="650.3" cy="337.87" r="4.1"/><circle cx="652.04" cy="333.66" r="4.1"/><circle cx="653.79" cy="325.24" r="4.1"/><circle cx="655.53" cy="316.82" r="4.1"/><circle cx="657.28" cy="312.61" r="4.1"/><circle cx="659.02" cy="312.61" r="4.1"/><circle cx="660.77" cy="308.4" r="4.1"/><circle cx="662.51" cy="308.4" r="4.1"/><circle cx="664.26" cy="308.4" r="4.1"/><circle cx="666" cy="312.61" r="4.1"/><circle cx="667.75" cy="312.61" r="4.1"/><circle cx="669.5" cy="312.61" r="4.1"/><circle cx="671.24" cy="312.61" r="4.1"/><circle cx="672.99" cy="308.4" r="4.1"/><circle cx="674.73" cy="308.4" r="4.1"/><circle cx="676.48" cy="304.19" r="4.1"/><circle cx="678.22" cy="299.98" r="4.1"/><circle cx="555.2" cy="340.4" r="4.1"/><circle cx="556.9" cy="335.34" r="4.1"/><circle cx="558.6" cy="329.45" r="4.1"/>
</g>
<text transform="translate(472.94 357.5) scale(0.7369 1.0000) translate(-1.4 0)" font-size="18.6">1</text>
<text transform="translate(456.98 336.5) scale(1.0191 1.0000) translate(-1.4 0)" font-size="18.6">1.5</text>
<text transform="translate(472.09 315.5) scale(1.0709 1.0000) translate(-0.93 0)" font-size="18.6">2</text>
</g>
<g id="SUN">
<path d="M491.46 481.4H696.1M491.46 475.4H696.1M491.46 469.4H696.1M491.46 463.4H696.1M491.46 451.4H696.1M491.46 445.4H696.1M491.46 439.4H696.1M491.46 433.4H696.1" stroke="#c2c2c2" stroke-width="2" stroke-dasharray="1.25 4.305" fill="none"/>
<path d="M532.3 427.4V487.4M573.6 427.4V487.4M615.5 427.4V487.4M657.3 427.4V487.4M490.5 457.4H698.6" stroke="#dedede" stroke-width="1.8" fill="none"/>
<path d="M490.5 487.4v-3.3M490.5 427.4v3.3M532.3 487.4v-3.3M532.3 427.4v3.3M573.6 487.4v-3.3M573.6 427.4v3.3M615.5 487.4v-3.3M615.5 427.4v3.3M657.3 487.4v-3.3M657.3 427.4v3.3M698.6 487.4v-3.3M698.6 427.4v3.3M490.5 487.4h3.3M698.6 487.4h-3.3M490.5 457.4h3.3M698.6 457.4h-3.3M490.5 427.4h3.3M698.6 427.4h-3.3" stroke="#262626" stroke-width="1.8" fill="none"/>
<rect x="490.5" y="427.4" width="208.1" height="60" fill="none" stroke="#262626" stroke-width="1.8"/>
<g fill="none" stroke="#0072bd" stroke-width="2.3">
<circle cx="510.7" cy="487.3" r="4.1"/><circle cx="512.44" cy="487.3" r="4.1"/><circle cx="514.19" cy="487.3" r="4.1"/><circle cx="515.93" cy="487.3" r="4.1"/><circle cx="517.68" cy="487.3" r="4.1"/><circle cx="519.42" cy="487.3" r="4.1"/><circle cx="521.17" cy="487.3" r="4.1"/><circle cx="522.91" cy="487.3" r="4.1"/><circle cx="524.66" cy="487.3" r="4.1"/><circle cx="526.4" cy="487.3" r="4.1"/><circle cx="528.15" cy="487.3" r="4.1"/><circle cx="529.89" cy="487.3" r="4.1"/><circle cx="531.64" cy="487.3" r="4.1"/><circle cx="533.38" cy="487.3" r="4.1"/><circle cx="535.13" cy="487.3" r="4.1"/><circle cx="536.88" cy="487.3" r="4.1"/><circle cx="538.62" cy="487.3" r="4.1"/><circle cx="540.37" cy="487.3" r="4.1"/><circle cx="542.11" cy="487.3" r="4.1"/><circle cx="566.54" cy="487.3" r="4.1"/><circle cx="568.28" cy="487.3" r="4.1"/><circle cx="570.03" cy="487.3" r="4.1"/><circle cx="571.77" cy="487.3" r="4.1"/><circle cx="573.52" cy="487.3" r="4.1"/><circle cx="575.26" cy="487.3" r="4.1"/><circle cx="577.01" cy="487.3" r="4.1"/><circle cx="578.75" cy="487.3" r="4.1"/><circle cx="580.5" cy="487.3" r="4.1"/><circle cx="582.25" cy="487.3" r="4.1"/><circle cx="583.99" cy="487.3" r="4.1"/><circle cx="610.16" cy="487.3" r="4.1"/><circle cx="611.91" cy="487.3" r="4.1"/><circle cx="613.65" cy="487.3" r="4.1"/><circle cx="615.4" cy="487.3" r="4.1"/><circle cx="617.14" cy="487.3" r="4.1"/><circle cx="618.89" cy="487.3" r="4.1"/><circle cx="620.63" cy="487.3" r="4.1"/><circle cx="622.38" cy="487.3" r="4.1"/><circle cx="624.12" cy="487.3" r="4.1"/><circle cx="625.87" cy="487.3" r="4.1"/><circle cx="650.3" cy="487.3" r="4.1"/><circle cx="652.04" cy="487.3" r="4.1"/><circle cx="653.79" cy="487.3" r="4.1"/><circle cx="655.53" cy="487.3" r="4.1"/><circle cx="657.28" cy="487.3" r="4.1"/><circle cx="659.02" cy="487.3" r="4.1"/><circle cx="660.77" cy="487.3" r="4.1"/><circle cx="662.51" cy="487.3" r="4.1"/><circle cx="664.26" cy="487.3" r="4.1"/><circle cx="666" cy="487.3" r="4.1"/><circle cx="667.75" cy="487.3" r="4.1"/><circle cx="545.3" cy="483.1" r="4.1"/><circle cx="547.2" cy="476" r="4.1"/><circle cx="548.5" cy="470.2" r="4.1"/><circle cx="550.4" cy="463.8" r="4.1"/><circle cx="553" cy="452.8" r="4.1"/><circle cx="554.3" cy="463.8" r="4.1"/><circle cx="556.9" cy="473.4" r="4.1"/><circle cx="557.7" cy="480.5" r="4.1"/><circle cx="559.3" cy="482" r="4.1"/><circle cx="560.7" cy="483.3" r="4.1"/><circle cx="562.4" cy="484.6" r="4.1"/><circle cx="564" cy="485.6" r="4.1"/><circle cx="586" cy="475.4" r="4.1"/><circle cx="587.6" cy="461" r="4.1"/><circle cx="588.7" cy="441.1" r="4.1"/><circle cx="591.4" cy="433.6" r="4.1"/><circle cx="592.8" cy="434.8" r="4.1"/><circle cx="594.9" cy="427.1" r="4.1"/><circle cx="596.7" cy="444.9" r="4.1"/><circle cx="598" cy="461.4" r="4.1"/><circle cx="599" cy="474" r="4.1"/><circle cx="600.4" cy="476.7" r="4.1"/><circle cx="601.7" cy="479.5" r="4.1"/><circle cx="603.8" cy="482.2" r="4.1"/><circle cx="605.2" cy="483.8" r="4.1"/><circle cx="606.6" cy="485" r="4.1"/><circle cx="608" cy="486" r="4.1"/><circle cx="627.8" cy="476" r="4.1"/><circle cx="629.6" cy="462.3" r="4.1"/><circle cx="631.9" cy="448.7" r="4.1"/><circle cx="634" cy="450" r="4.1"/><circle cx="636.1" cy="451" r="4.1"/><circle cx="638.2" cy="461.9" r="4.1"/><circle cx="639.5" cy="473.3" r="4.1"/><circle cx="640.8" cy="483.6" r="4.1"/><circle cx="642.4" cy="484.5" r="4.1"/><circle cx="644.2" cy="485.2" r="4.1"/><circle cx="646" cy="485.8" r="4.1"/><circle cx="647.8" cy="486.3" r="4.1"/><circle cx="669.6" cy="485" r="4.1"/><circle cx="671.6" cy="482.2" r="4.1"/><circle cx="673.7" cy="478.8" r="4.1"/><circle cx="675.8" cy="476" r="4.1"/><circle cx="677.4" cy="474" r="4.1"/><circle cx="678.2" cy="472.6" r="4.1"/>
</g>
<text transform="translate(472.09 494.4) scale(1.0204 1.0000) translate(-0.74 0)" font-size="18.6">0</text>
<text transform="translate(461.22 464.4) scale(1.0378 1.0000) translate(-0.74 0)" font-size="18.6">50</text>
<text transform="translate(451.21 434.4) scale(1.0353 1.0000) translate(-1.4 0)" font-size="18.6">100</text>
</g>
<text transform="translate(126.47 543.73) rotate(-45) scale(1.0771 1.0000) translate(-1.4 0)" font-size="18.6">12/30</text>
<text transform="translate(167.37 543.73) rotate(-45) scale(1.0301 1.0000) translate(-1.4 0)" font-size="18.6">12/31</text>
<text transform="translate(208.77 544.33) rotate(-45) scale(1.0342 1.0000) translate(-0.74 0)" font-size="18.6">01/01</text>
<text transform="translate(250.77 544.33) rotate(-45) scale(1.0861 1.0000) translate(-0.74 0)" font-size="18.6">01/02</text>
<text transform="translate(291.97 544.33) rotate(-45) scale(1.0827 1.0000) translate(-0.74 0)" font-size="18.6">01/03</text>
<text transform="translate(333.97 544.33) rotate(-45) scale(1.0760 1.0000) translate(-0.74 0)" font-size="18.6">01/04</text>
<text transform="translate(227.05 575.7) scale(1.1014 1.0000) translate(-0.47 0)" font-size="20.9">Time</text>
<text transform="translate(469.47 543.73) rotate(-45) scale(1.0771 1.0000) translate(-1.4 0)" font-size="18.6">12/30</text>
<text transform="translate(511.27 543.73) rotate(-45) scale(1.0301 1.0000) translate(-1.4 0)" font-size="18.6">12/31</text>
<text transform="translate(551.97 544.33) rotate(-45) scale(1.0342 1.0000) translate(-0.74 0)" font-size="18.6">01/01</text>
<text transform="translate(593.87 544.33) rotate(-45) scale(1.0861 1.0000) translate(-0.74 0)" font-size="18.6">01/02</text>
<text transform="translate(635.67 544.33) rotate(-45) scale(1.0827 1.0000) translate(-0.74 0)" font-size="18.6">01/03</text>
<text transform="translate(676.97 544.33) rotate(-45) scale(1.0760 1.0000) translate(-0.74 0)" font-size="18.6">01/04</text>
<text transform="translate(570.05 575.7) scale(1.1014 1.0000) translate(-0.47 0)" font-size="20.9">Time</text>
<text transform="translate(187.8 30.6) scale(1.0718 1.0000) translate(-1.39 0)" font-size="20.6" font-weight="bold" fill="#000">Figure 3 low</text>
<text transform="translate(95 122.5) rotate(-90) scale(0.8809 1.0000) translate(-1.72 0)" font-size="20.9">PRESSURE</text>
<text transform="translate(84 382) rotate(-90) scale(0.9947 1.0000) translate(-1.72 0)" font-size="20.9">MIXDEPTH</text>
<text transform="translate(438.4 105.4) rotate(-90) scale(0.9539 1.0000) translate(-0.47 0)" font-size="20.9">THETA</text>
<text transform="translate(445.5 248.1) rotate(-90) scale(0.9710 1.0000) translate(-1.72 0)" font-size="20.9">RAINFALL</text>
<text transform="translate(445.5 382) rotate(-90) scale(0.9960 1.0000) translate(-1.72 0)" font-size="20.9">H2OMIXRA</text>
<text transform="translate(86 245.1) rotate(-90) scale(0.9318 1.0000) translate(-0.05 0)" font-size="20.9">AIR</text>
<text transform="translate(95.9 210) rotate(-90) scale(0.9513 1.0000) translate(-0.36 0)" font-size="16">T</text>
<text transform="translate(86 198.9) rotate(-90) scale(0.9652 1.0000) translate(-1.72 0)" font-size="20.9">EMP</text>
<text transform="translate(86.2 501.4) rotate(-90) scale(0.8442 1.0000) translate(-0.47 0)" font-size="20.9">TERR</text>
<text transform="translate(95.6 449.2) rotate(-90) scale(1.1610 1.0000) translate(-1.32 0)" font-size="16">M</text>
<text transform="translate(86.2 433.5) rotate(-90) scale(0.8358 1.0000) translate(-0.94 0)" font-size="20.9">SL</text>
<text transform="translate(399.3 503.1) rotate(-90) scale(0.9642 1.0000) translate(-0.94 0)" font-size="20.9">SUN</text>
<text transform="translate(407.8 457.9) rotate(-90) scale(0.8974 1.0000) translate(-1.32 0)" font-size="16">F</text>
<text transform="translate(399.3 448.4) rotate(-90) scale(0.9673 1.0000) translate(-1.72 0)" font-size="20.9">LUX</text>
</svg>
</body></html>
